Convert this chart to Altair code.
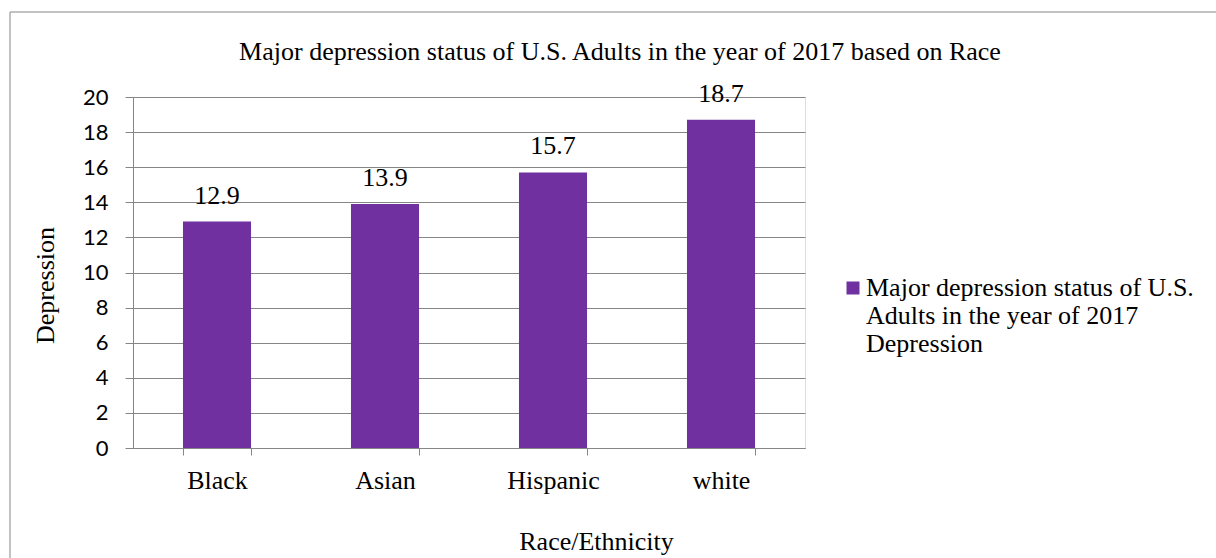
import altair as alt
import pandas as pd

categories = ["Black", "Asian", "Hispanic", "white"]
values = [12.9, 13.9, 15.7, 18.7]
series_lines = ["Major depression status of U.S.", "Adults in the year of 2017", "Depression"]
y_ticks = [0, 2, 4, 6, 8, 10, 12, 14, 16, 18, 20]
chart_title = "Major depression status of U.S. Adults in the year of 2017  based on Race"

series_name = "\n".join(series_lines)
df = pd.DataFrame({"race": categories, "value": values, "series": [series_name] * len(categories)})

SERIF = "Liberation Serif"
GRID = "#868686"
PURPLE = "#7030A0"
FS = 26

x_enc = alt.X(
    "race:N", sort=categories, title="Race/Ethnicity",
    scale=alt.Scale(paddingInner=0.595, paddingOuter=0.2975),
    axis=alt.Axis(
        labelAngle=0, labelFont=SERIF, labelFontSize=FS, labelColor="black",
        labelBaseline="alphabetic", labelPadding=33,
        tickBand="extent", tickSize=7, tickColor=GRID, domainColor=GRID,
        titleFont=SERIF, titleFontSize=FS, titleFontWeight="normal", titleColor="black",
        titleX=463, titleY=101, titleBaseline="alphabetic", titleAlign="center",
    ),
)
y_enc = alt.Y(
    "value:Q", title="Depression",
    scale=alt.Scale(domain=[0, 20], nice=False),
    axis=alt.Axis(
        values=y_ticks, tickCount=len(y_ticks) + 1, grid=True, gridColor=GRID, tickSize=8,
        tickColor=GRID, domainColor=GRID, labelFont="Lato", labelFontSize=22, labelPadding=17,
        labelColor="black", labelOverlap=False,
        titleFont=SERIF, titleFontSize=FS, titleFontWeight="normal", titleColor="black",
        titleAngle=270, titleX=-88, titleY=188, titleBaseline="middle", titleAlign="center",
    ),
)

base = alt.Chart(df)

bars = base.mark_bar().encode(
    x=x_enc, y=y_enc,
    color=alt.Color(
        "series:N", scale=alt.Scale(range=[PURPLE]), title=None,
        legend=alt.Legend(
            orient="none", legendX=707, legendY=178, padding=0,
            labelFont=SERIF, labelFontSize=FS, labelColor="black", labelLimit=0,
            labelExpr="split(datum.label, '\\n')", labelBaseline="middle",
            symbolType="square", symbolSize=169, symbolStrokeWidth=0,
            symbolOpacity=1, labelOffset=0,
        ),
    ),
)

labels = base.mark_text(
    dy=-18, baseline="alphabetic", font=SERIF, fontSize=FS, color="black"
).encode(x=x_enc, y=y_enc, text=alt.Text("value:Q", format=".1f"))

border = alt.Chart(pd.DataFrame({"a": [0]})).mark_rect(
    fillOpacity=0, stroke=GRID, strokeWidth=1
).encode(x=alt.value(-123), x2=alt.value(1300), y=alt.value(-85), y2=alt.value(700))

chart = alt.layer(border, bars, labels).properties(
    width=672, height=351,
    title=alt.TitleParams(
        chart_title, font=SERIF, fontSize=FS, fontWeight="normal", color="black",
        anchor="middle", frame="group", dx=151, dy=78, baseline="alphabetic",
    ),
    autosize=alt.AutoSizeParams(type="none"),
    padding={"left": 133, "top": 97, "right": 411, "bottom": 110},
).configure_view(stroke=None).configure(
    background="white", style={"guide-label": {"lineHeight": 28}}
)

chart.save("out.html", embed_options={"renderer": "svg", "actions": False})
